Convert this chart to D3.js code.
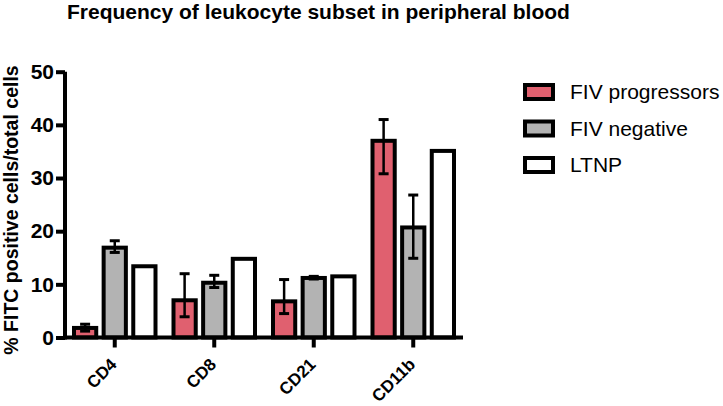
<!DOCTYPE html>
<html>
<head>
<meta charset="utf-8">
<script src="https://cdn.jsdelivr.net/npm/d3@7"></script>
<style>
  body { margin: 0; background: #fff; }
  text { font-family: "Liberation Sans", Arial, sans-serif; }
</style>
</head>
<body>
<div id="chart"></div>
<script>
// categories and groups
var categories = ["CD4", "CD8", "CD21", "CD11b"];
var groups = ["FIV progressors", "FIV negative", "LTNP"];
var colors = ["#E0606F", "#B3B3B3", "#FFFFFF"];

// bar heights, one array per group
var progressors = [1.8, 7.0, 6.8, 37.0];
var negative = [16.9, 10.3, 11.2, 20.7];
var ltnp = [13.4, 14.8, 11.5, 35.1];

// error whiskers (low / high ends)
var progLow = [1.2, 3.9, 4.5, 30.8];
var progHigh = [2.5, 12.0, 10.9, 41.0];
var negLow = [16.0, 9.4, 11.0, 14.9];
var negHigh = [18.2, 11.7, 11.5, 26.8];

var yTicks = [0, 10, 20, 30, 40, 50];

var svgWidth = 723;
var svgHeight = 406;

var svg = d3.select("#chart")
  .append("svg")
  .attr("width", svgWidth)
  .attr("height", svgHeight);

// build rows
var seriesValues = [progressors, negative, ltnp];
var seriesLow = [progLow, negLow, null];
var seriesHigh = [progHigh, negHigh, null];
var rows = [];
categories.forEach(function(c, i) {
  groups.forEach(function(g, j) {
    rows.push({
      cat: c,
      group: g,
      idx: j,
      value: seriesValues[j][i],
      lo: seriesLow[j] ? seriesLow[j][i] : null,
      hi: seriesHigh[j] ? seriesHigh[j][i] : null
    });
  });
});

// scales
var xScale = d3.scaleBand()
  .domain(categories)
  .range([65, 463]);

var xInner = d3.scaleBand()
  .domain(groups)
  .range([9, xScale.bandwidth() - 9])
  .paddingInner(0.25)
  .paddingOuter(0);

var yScale = d3.scaleLinear()
  .domain([0, 50])
  .range([337.5, 71.7]);

// title
svg.append("text")
  .attr("x", 67)
  .attr("y", 19)
  .attr("font-size", "21px")
  .attr("font-weight", "bold")
  .text("Frequency of leukocyte subset in peripheral blood");

// y label
svg.append("text")
  .attr("transform", "translate(11, 210) rotate(-90)")
  .attr("text-anchor", "middle")
  .attr("dominant-baseline", "central")
  .attr("font-size", "19.5px")
  .attr("font-weight", "bold")
  .text("% FITC positive cells/total cells");

// bars
svg.append("g")
  .selectAll("rect")
  .data(rows)
  .enter()
  .append("rect")
  .attr("x", d => xScale(d.cat) + xInner(d.group))
  .attr("y", d => yScale(d.value))
  .attr("width", xInner.bandwidth())
  .attr("height", d => yScale(0) - yScale(d.value))
  .attr("fill", d => colors[d.idx])
  .attr("stroke", "#000")
  .attr("stroke-width", 4);

// error bars
var errRows = rows.filter(d => d.hi !== null);
var errG = svg.append("g")
  .attr("stroke", "#000")
  .attr("stroke-width", 2.5);
errRows.forEach(function(d) {
  var cx = xScale(d.cat) + xInner(d.group) + xInner.bandwidth() / 2;
  errG.append("line")
    .attr("x1", cx).attr("x2", cx)
    .attr("y1", yScale(d.lo)).attr("y2", yScale(d.hi));
  [d.lo, d.hi].forEach(function(v) {
    errG.append("line")
      .attr("x1", cx - 5).attr("x2", cx + 5)
      .attr("y1", yScale(v)).attr("y2", yScale(v))
      .attr("stroke-width", 3);
  });
});

// axes
var leftAxis = d3.axisLeft(yScale)
  .tickValues(yTicks)
  .tickSize(9)
  .tickPadding(2);

var yAxisG = svg.append("g")
  .attr("transform", "translate(65, 0)")
  .call(leftAxis);

var bottomAxis = d3.axisBottom(xScale)
  .tickSize(10)
  .tickPadding(6);

var xAxisG = svg.append("g")
  .attr("transform", "translate(0, " + yScale(0) + ")")
  .call(bottomAxis);

[yAxisG, xAxisG].forEach(function(g) {
  g.select(".domain").attr("stroke-width", 4).attr("stroke", "#000");
  g.selectAll(".tick line").attr("stroke-width", 4).attr("stroke", "#000");
  g.selectAll(".tick text")
    .attr("font-family", "'Liberation Sans', Arial, sans-serif")
    .attr("font-weight", "bold")
    .attr("fill", "#000");
});
yAxisG.selectAll(".tick text").attr("font-size", "21px");
xAxisG.selectAll(".tick text").attr("font-size", "17px");

// domains reach the corner
yAxisG.select(".domain").attr("d", "M0," + yScale(50) + "V" + (yScale(0) + 2));
xAxisG.select(".domain").attr("d", "M63,0H463");

xAxisG.selectAll(".tick text")
  .attr("text-anchor", "end")
  .attr("dy", 0)
  .attr("y", 0)
  .attr("x", 0)
  .attr("transform", "translate(3, 28) rotate(-45)");

// legend
var legend = svg.append("g")
  .attr("transform", "translate(525, 85)");

groups.forEach(function(g, i) {
  var row = legend.append("g")
    .attr("transform", "translate(0," + (i * 36.5) + ")");
  row.append("rect")
    .attr("x", 0)
    .attr("y", 0)
    .attr("width", 28)
    .attr("height", 14)
    .attr("fill", colors[i])
    .attr("stroke", "#000")
    .attr("stroke-width", 4);
  row.append("text")
    .attr("x", 45)
    .attr("y", 6.5)
    .attr("dominant-baseline", "central")
    .attr("font-size", "21px")
    .text(g);
});
</script>
</body>
</html>
